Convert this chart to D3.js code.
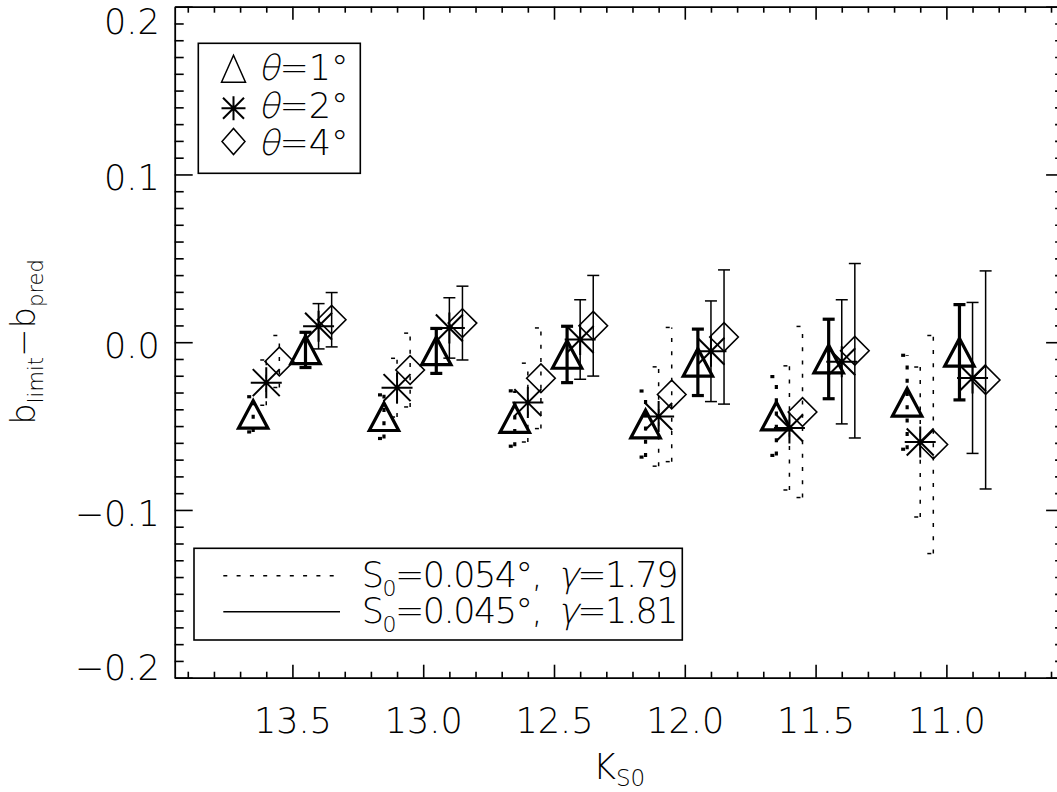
<!DOCTYPE html>
<html>
<head>
<meta charset="utf-8">
<script src="https://cdn.jsdelivr.net/npm/d3@7"></script>
<style>
  html, body { margin: 0; padding: 0; background: #fff; }
  svg { display: block; }
  text { font-family: "DejaVu Sans", "Liberation Sans", sans-serif; font-weight: 200; fill: #000; }
</style>
</head>
<body>
<svg id="chart" width="1057" height="792"></svg>
<script>
// ---------------- data ----------------
// K_S0 positions of each series (bins 13.5 ... 11.0, offset per series)
const kTriDot = [13.65, 13.15, 12.65, 12.15, 11.65, 11.15];
const kAstDot = [13.60, 13.10, 12.60, 12.10, 11.60, 11.10];
const kDiaDot = [13.55, 13.05, 12.55, 12.05, 11.55, 11.05];
const kTriSol = [13.45, 12.95, 12.45, 11.95, 11.45, 10.95];
const kAstSol = [13.40, 12.90, 12.40, 11.90, 11.40, 10.90];
const kDiaSol = [13.35, 12.85, 12.35, 11.85, 11.35, 10.85];

// b_limit - b_pred values, S0=0.054, gamma=1.79 (dotted)
const vTriDot = [-0.043, -0.0444, -0.0455, -0.0488, -0.0440, -0.0358];
const eTriDot = [0.0105, 0.0130, 0.0165, 0.0197, 0.0235, 0.0280];
const vAstDot = [-0.0241, -0.0271, -0.0360, -0.0443, -0.0511, -0.0595];
const eAstDot = [0.0135, 0.0175, 0.0235, 0.0296, 0.0370, 0.0447];
const vDiaDot = [-0.0115, -0.0166, -0.0215, -0.0312, -0.0416, -0.0610];
const eDiaDot = [0.0155, 0.0220, 0.0300, 0.0400, 0.0510, 0.0650];

// S0=0.045, gamma=1.81 (solid)
const vTriSol = [-0.0046, -0.0052, -0.0073, -0.0120, -0.0100, -0.0060];
const eTriSol = [0.0105, 0.0134, 0.0168, 0.0198, 0.0237, 0.0284];
const vAstSol = [0.0095, 0.0085, 0.0016, -0.0054, -0.0117, -0.0213];
const eAstSol = [0.0135, 0.0180, 0.0237, 0.0300, 0.0370, 0.0450];
const vDiaSol = [0.0134, 0.0114, 0.0098, 0.0031, -0.0051, -0.0225];
const eDiaSol = [0.0162, 0.0220, 0.0300, 0.0400, 0.0520, 0.0650];

const xMajorTicks = [13.5, 13.0, 12.5, 12.0, 11.5, 11.0];
const yMajorTicks = [-0.2, -0.1, 0.0, 0.1, 0.2];
const legendTheta = ["1", "2", "4"];
const legendFits = [
  {s0: "0.054", gamma: "1.79", dash: true},
  {s0: "0.045", gamma: "1.81", dash: false}
];

// ---------------- layout ----------------
const svg = d3.select("#chart");
const L = 174.7, R = 1064.1, T = 6.7, B = 677.7;
const x = d3.scaleLinear().domain([13.95, 10.55]).range([L, R]);
const y = d3.scaleLinear().domain([-0.2, 0.2]).range([B, T]);
const DOT = "4,9.3";

const xMinor = d3.range(106, 140).map(d => d / 10).filter(d => !xMajorTicks.some(m => Math.abs(m - d) < 1e-6));
const yMinor = d3.range(-20, 21).map(d => d / 100).filter(d => Math.abs(d * 10 - Math.round(d * 10)) > 1e-6);

function styleAxis(g) {
  g.selectAll(".domain").attr("stroke", "#000").attr("stroke-width", 1.8);
  g.selectAll(".tick line").attr("stroke", "#000").attr("stroke-width", 1.6);
}

// bottom axis
const gB = svg.append("g").attr("transform", `translate(0,${B})`);
gB.call(d3.axisBottom(x).tickValues(xMinor).tickSize(-6).tickSizeOuter(0).tickFormat(""));
gB.append("g").call(d3.axisBottom(x).tickValues(xMajorTicks).tickSize(-13).tickSizeOuter(0).tickFormat(d3.format(".1f")))
  .call(g => g.select(".domain").remove());
gB.selectAll("text").attr("y", 55.5).attr("dy", 0).attr("font-size", 35).attr("font-family", null);
styleAxis(gB);

// top axis
const gT = svg.append("g").attr("transform", `translate(0,${T})`);
gT.call(d3.axisTop(x).tickValues(xMinor).tickSize(-6).tickSizeOuter(0).tickFormat(""));
gT.append("g").call(d3.axisTop(x).tickValues(xMajorTicks).tickSize(-13).tickSizeOuter(0).tickFormat(""))
  .call(g => g.select(".domain").remove());
styleAxis(gT);

// left axis
const gL = svg.append("g").attr("transform", `translate(${L},0)`);
gL.call(d3.axisLeft(y).tickValues(yMinor).tickSize(-9).tickSizeOuter(0).tickFormat(""));
gL.append("g").call(d3.axisLeft(y).tickValues(yMajorTicks).tickSize(-18).tickSizeOuter(0).tickFormat(d3.format(".1f")))
  .call(g => g.select(".domain").remove());
gL.selectAll("text")
  .attr("x", -15).attr("dy", 0).attr("font-size", 35).attr("font-family", null)
  .attr("y", function(d) {
    const ty = y(d);
    return Math.min(Math.max(ty + 15.5, T + 26.6), B + 1.3) - ty;
  });
styleAxis(gL);

// right axis
const gR = svg.append("g").attr("transform", `translate(${R},0)`);
gR.call(d3.axisRight(y).tickValues(yMinor).tickSize(-9).tickSizeOuter(0).tickFormat(""));
gR.append("g").call(d3.axisRight(y).tickValues(yMajorTicks).tickSize(-18).tickSizeOuter(0).tickFormat(""))
  .call(g => g.select(".domain").remove());
styleAxis(gR);

// sequential text pieces: [text, fontSize, baselineShift, italic, gapAfter]
function textRun(parent, x0, baseY, pieces, spacing) {
  let cx = x0;
  pieces.forEach(p => {
    const [str, fs, shift, ital, gap] = p;
    const t = parent.append("text").attr("font-size", fs).text(str)
      .attr("letter-spacing", spacing || 0);
    if (ital) {
      t.attr("transform", `translate(${cx},${baseY + shift}) skewX(-13)`);
    } else {
      t.attr("x", cx).attr("y", baseY + shift);
    }
    cx += t.node().getComputedTextLength() + (gap || 0);
  });
  return cx;
}

// axis titles
textRun(svg, 593, 779, [["K", 35, 0, false], ["S0", 23, 7, false]]);

const yt = svg.append("text")
  .attr("transform", "translate(35,342) rotate(-90)")
  .attr("text-anchor", "middle").attr("font-size", 34);
yt.append("tspan").text("b");
yt.append("tspan").attr("font-size", 21).attr("dy", 8).text("limit");
yt.append("tspan").attr("dy", -8).text("\u2212b");
yt.append("tspan").attr("font-size", 21).attr("dy", 8).text("pred");

// ---------------- marks ----------------
const plot = svg.append("g");

function triPath(cx, cy, hw, hh) {
  return `M${cx - hw},${cy + hh}L${cx},${cy - hh}L${cx + hw},${cy + hh}Z`;
}
function diaPath(cx, cy, hw, hh) {
  return `M${cx - hw},${cy}L${cx},${cy - hh}L${cx + hw},${cy}L${cx},${cy + hh}Z`;
}
function astPath(cx, cy, r, d) {
  return `M${cx - r},${cy}H${cx + r}M${cx},${cy - r}V${cy + r}` +
         `M${cx - d},${cy - d}L${cx + d},${cy + d}M${cx - d},${cy + d}L${cx + d},${cy - d}`;
}

function drawSeries(ks, vs, es, shape, dashed) {
  const data = ks.map((k, i) => ({k, v: vs[i], e: es[i]}));
  const thick = shape === "tri";
  const bw = thick ? 3.2 : 1.5;
  const g = plot.append("g");
  const eb = g.selectAll("g.eb").data(data).join("g").attr("class", "eb")
    .attr("stroke", "#000").attr("stroke-width", bw).attr("fill", "none")
    .attr("stroke-dasharray", dashed ? DOT : null);
  eb.append("line")
    .attr("x1", d => x(d.k)).attr("x2", d => x(d.k))
    .attr("y1", d => y(d.v - d.e)).attr("y2", d => y(d.v + d.e));
  eb.append("line")
    .attr("x1", d => x(d.k) - 6).attr("x2", d => x(d.k) + 6)
    .attr("y1", d => y(d.v + d.e)).attr("y2", d => y(d.v + d.e));
  eb.append("line")
    .attr("x1", d => x(d.k) - 6).attr("x2", d => x(d.k) + 6)
    .attr("y1", d => y(d.v - d.e)).attr("y2", d => y(d.v - d.e));
  g.selectAll("path.sym").data(data).join("path").attr("class", "sym")
    .attr("fill", "none").attr("stroke", "#000")
    .attr("stroke-width", shape === "tri" ? 3.2 : (shape === "ast" ? 2 : 1.6))
    .attr("stroke-linejoin", "miter")
    .attr("d", d => {
      const cx = x(d.k), cy = y(d.v);
      if (shape === "tri") return triPath(cx, cy, 14.7, 13.8);
      if (shape === "dia") return diaPath(cx, cy, 14.3, 14.3);
      return astPath(cx, cy, 15.5, 13.5);
    });
}

drawSeries(kTriDot, vTriDot, eTriDot, "tri", true);
drawSeries(kAstDot, vAstDot, eAstDot, "ast", true);
drawSeries(kDiaDot, vDiaDot, eDiaDot, "dia", true);
drawSeries(kTriSol, vTriSol, eTriSol, "tri", false);
drawSeries(kAstSol, vAstSol, eAstSol, "ast", false);
drawSeries(kDiaSol, vDiaSol, eDiaSol, "dia", false);

// ---------------- legend 1 (symbols) ----------------
const lg1 = svg.append("g");
lg1.append("rect").attr("x", 198.3).attr("y", 43.3).attr("width", 162).attr("height", 130)
  .attr("fill", "none").attr("stroke", "#000").attr("stroke-width", 1.6);
const rowY = [80, 118.3, 155];
const symY = [68.8, 108.3, 141.5];
const symPaths = [
  triPath(233.5, symY[0], 12, 13.5),
  astPath(233.5, symY[1], 12, 10.5),
  diaPath(233.5, symY[2], 11.5, 13)
];
legendTheta.forEach((t, i) => {
  lg1.append("path").attr("d", symPaths[i]).attr("fill", "none").attr("stroke", "#000")
    .attr("stroke-width", i === 1 ? 2 : 1.5);
  textRun(lg1, 258, rowY[i], [["\u03B8", 35, 0, true], ["=" + t + "\u00B0", 35, 0, false]]);
});

// ---------------- legend 2 (lines) ----------------
const lg2 = svg.append("g");
lg2.append("rect").attr("x", 194).attr("y", 548.3).attr("width", 488.3).attr("height", 91.7)
  .attr("fill", "none").attr("stroke", "#000").attr("stroke-width", 1.6);
const lineY = [575.7, 611.7];
const textY = [586.7, 623];
legendFits.forEach((f, i) => {
  lg2.append("line").attr("x1", 223.3).attr("x2", 340).attr("y1", lineY[i]).attr("y2", lineY[i])
    .attr("stroke", "#000").attr("stroke-width", 1.5)
    .attr("stroke-dasharray", f.dash ? DOT : null);
  textRun(lg2, 361.7, textY[i], [
    ["S", 35, 0, false, 0],
    ["0", 22, 9, false, 0],
    ["=" + f.s0 + "\u00B0,", 35, 0, false, 17],
    ["\u03B3", 35, 0, true, 0],
    ["=" + f.gamma, 35, 0, false, 0]
  ], -1.5);
});
</script>
</body>
</html>
